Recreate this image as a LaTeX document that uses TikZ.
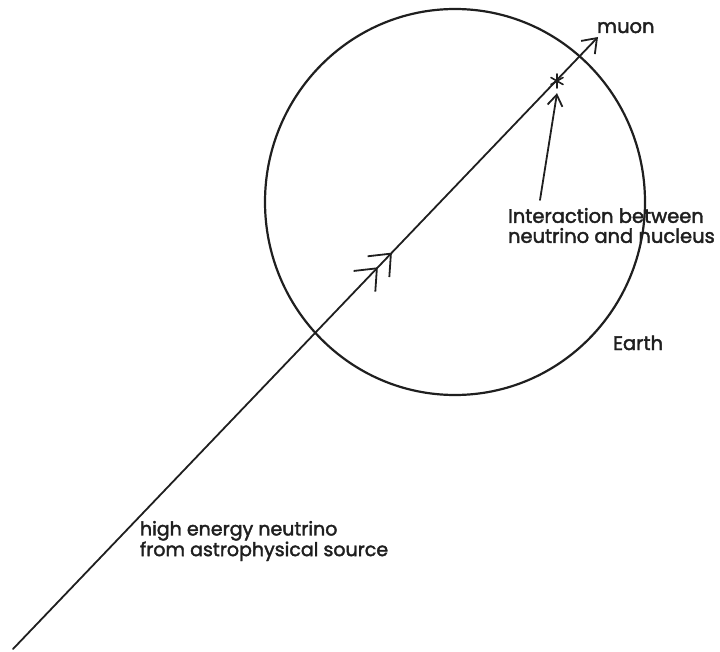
\documentclass[tikz,border=0pt]{standalone}
\usepackage{fontspec}
\setmainfont{Poppins}
\newfontfamily\lblfont{Poppins}[FakeBold=2]
\usetikzlibrary{arrows.meta,shapes.geometric,decorations.markings}
\begin{document}
\begin{tikzpicture}[x=1pt,y=-1pt,
  lbl/.style={font=\lblfont\fontsize{19.5}{20}\selectfont, inner sep=0pt, outer sep=0pt, align=left, text=black!88},
  stroke/.style={line width=1.8pt, draw=black!88, line cap=round, line join=round},
  openbarb/.style={-{Straight Barb[length=13pt,width=19pt]}}]
\useasboundingbox (0,0) rectangle (720,652);

% Earth
\node[ellipse, draw=black!88, line width=2.2pt, minimum width=380pt, minimum height=386pt, inner sep=0pt] (earth) at (455,202) {};

% neutrino / muon track
\coordinate (src) at (13,649);
\coordinate (tip) at (598,37);
\draw[stroke, openbarb, postaction={decorate},
  decoration={markings, mark=at position 0.648 with {\arrow[line width=1.8pt]{Straight Barb[length=18pt,width=30pt] Straight Barb[length=18pt,width=30pt]}}}]
  (src) -- (tip);

% interaction point
\node[inner sep=0pt, minimum size=24pt] (star) at (557,81) {};
\draw[stroke, line width=1.6pt] (star.center) +(90:7) -- +(270:7);
\draw[stroke, line width=1.6pt] (star.center) +(30:7) -- +(210:7);
\draw[stroke, line width=1.6pt] (star.center) +(150:7) -- +(330:7);

% labels
\node[lbl, anchor=base west] (muon) at (597,33) {muon};
\node[lbl, anchor=north west] (inter) at (508,208) {Interaction between\\neutrino and nucleus};
\node[lbl, anchor=base west] (earthlbl) at (613,350) {Earth};
\node[lbl, anchor=north west, font=\lblfont\fontsize{19}{18}\selectfont] (nu) at (140,521) {high energy neutrino\\from astrophysical source};

% pointer to interaction
\coordinate (itail) at (540,200);
\draw[stroke, -{Straight Barb[length=11pt,width=15pt]}] (itail) -- (star.south);
\end{tikzpicture}
\end{document}
